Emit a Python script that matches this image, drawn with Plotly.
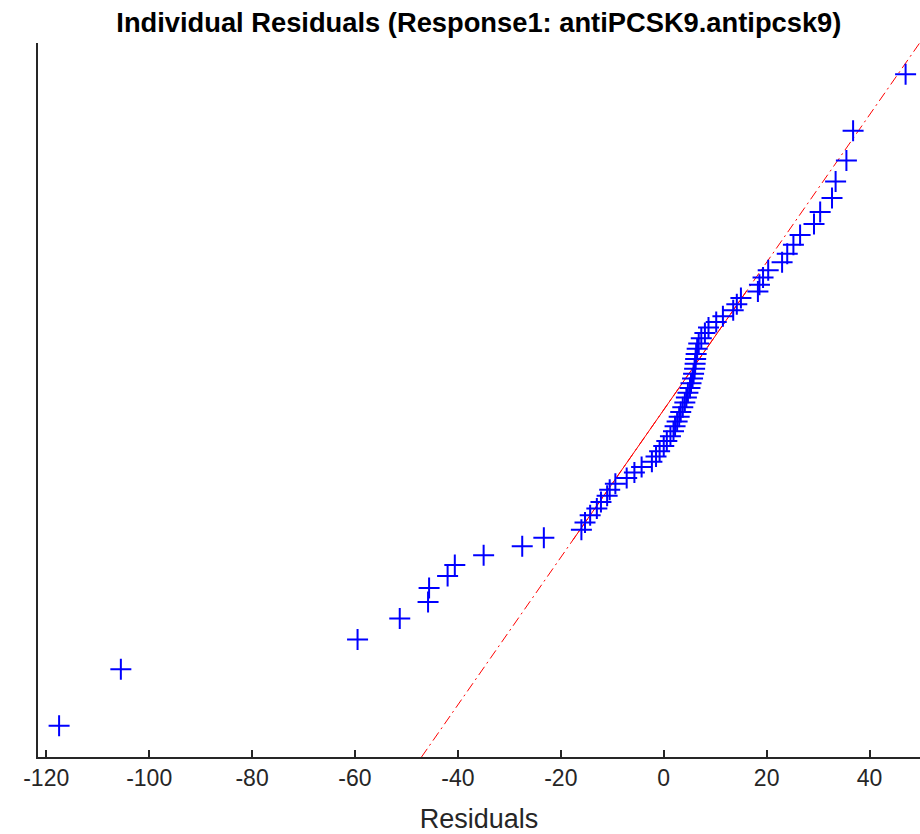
import plotly.graph_objects as go
from statistics import NormalDist

# Sorted individual residuals
residuals = [
    -117.5, -105.5, -59.5, -51.3, -45.8, -45.6, -42.0, -40.6, -35.0, -27.5,
    -23.3, -16.0, -15.3, -14.3, -13.0, -12.2, -11.0, -10.5, -9.4, -7.2,
    -5.7, -4.3, -2.3, -1.5, -0.8, 0.0, 0.6, 1.3, 1.9, 2.2,
    2.6, 3.0, 3.3, 3.7, 4.1, 4.4, 4.7, 5.1, 5.3, 5.6,
    5.8, 6.0, 6.1, 6.2, 6.3, 6.5, 6.8, 7.3, 8.0, 8.7,
    10.2, 11.5, 13.5, 14.2, 15.0, 18.3, 18.6, 19.3, 20.3, 23.0,
    24.0, 25.2, 26.5, 29.2, 30.4, 32.7, 33.4, 35.5, 36.8, 47.0,
]

# Reference line anchors (residual, normal quantile)
fit_x = [-17.88, 13.53]
fit_z = [-1.066, 0.677]
solid_z = [-1.05, 0.82]

x_tickvals = [-120, -100, -80, -60, -40, -20, 0, 20, 40]
x_range = [-121.6, 49.8]
z_range = [-2.686, 2.686]

nd = NormalDist()
n = len(residuals)
zq = [nd.inv_cdf((i - 0.5) / n) for i in range(1, n + 1)]

slope = (fit_z[1] - fit_z[0]) / (fit_x[1] - fit_x[0])
def x_at(z):
    return fit_x[0] + (z - fit_z[0]) / slope

fig = go.Figure()
# dash-dot extended line
fig.add_trace(go.Scatter(
    x=[x_at(z_range[0]), x_at(z_range[1])], y=z_range,
    mode="lines", line=dict(color="#FF0000", width=1, dash="10px,4px,2px,4px"),
    hoverinfo="skip", showlegend=False))
# solid part
fig.add_trace(go.Scatter(
    x=[x_at(solid_z[0]), x_at(solid_z[1])], y=solid_z,
    mode="lines", line=dict(color="#FF0000", width=1),
    hoverinfo="skip", showlegend=False))
# data points
fig.add_trace(go.Scatter(
    x=residuals, y=zq, mode="markers",
    marker=dict(symbol="cross-thin", size=15, line=dict(color="#0000FF", width=2)),
    showlegend=False))

fig.update_layout(
    width=920, height=834,
    margin=dict(l=38, r=0, t=43, b=77),
    paper_bgcolor="white", plot_bgcolor="white",
    font=dict(family="Liberation Sans, Arial, sans-serif", color="#262626"),
    title=dict(text="<b>Individual Residuals (Response1: antiPCSK9.antipcsk9)</b>",
               x=0.5205, xanchor="center", y=0.973, yanchor="middle",
               font=dict(size=27.3, color="#000000")),
    xaxis=dict(range=x_range, tickvals=x_tickvals, ticktext=[str(v) for v in x_tickvals],
               showgrid=False, zeroline=False, showline=True, linecolor="#262626", linewidth=1.5,
               ticks="inside", ticklen=7, tickwidth=1.5, tickcolor="#262626",
               tickfont=dict(size=23, color="#262626"),
               title=dict(text="Residuals", font=dict(size=27, color="#262626"), standoff=22)),
    yaxis=dict(range=z_range, showgrid=False, zeroline=False, showline=True,
               linecolor="#262626", linewidth=1.5, showticklabels=False, ticks=""),
)

fig.write_html("out.html")
